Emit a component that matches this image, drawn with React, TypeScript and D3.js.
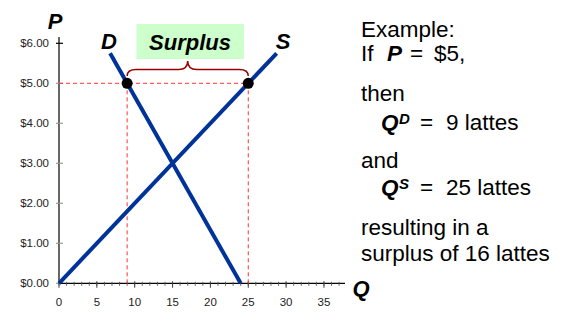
import React from "react";
import * as d3 from "d3";

const priceTicks = [0, 1, 2, 3, 4, 5, 6];
const priceLabels = ["$0.00", "$1.00", "$2.00", "$3.00", "$4.00", "$5.00", "$6.00"];
const qtyTicks = [0, 5, 10, 15, 20, 25, 30, 35];
const qtyMinor = d3.range(0, 38, 1);
const demandPoints = [
  { q: 6.75, p: 5.75 },
  { q: 24, p: 0 },
];
const supplyPoints = [
  { q: 0, p: 0 },
  { q: 28.75, p: 5.75 },
];
const price = 5;
const qDemanded = 9;
const qSupplied = 25;

const FONT = "'Liberation Sans', Arial, Helvetica, sans-serif";

export default function App() {
  const x = d3.scaleLinear().domain([0, 38]).range([59, 59 + 38 * 7.57]);
  const y = d3.scaleLinear().domain([0, 6]).range([283.3, 43.3]);
  const line = d3
    .line<{ q: number; p: number }>()
    .x((d) => x(d.q))
    .y((d) => y(d.p));

  const x0 = x(0);
  const y0 = y(0);
  const xd = x(qDemanded);
  const xs = x(qSupplied);
  const yp = y(price);

  // brace
  const bTop = 69.5;
  const bEnd = 76;
  const bMid = (xd + xs) / 2;
  const bPeak = 61;
  const r = 6;
  const brace = `M${xd},${bEnd} Q${xd},${bTop} ${xd + r * 1.5},${bTop} L${bMid - r * 1.5},${bTop} Q${bMid},${bTop} ${bMid},${bPeak} Q${bMid},${bTop} ${bMid + r * 1.5},${bTop} L${xs - r * 1.5},${bTop} Q${xs},${bTop} ${xs},${bEnd}`;

  const textSize = 22.5;
  const bi = { fontWeight: "bold" as const, fontStyle: "italic" as const };
  return (
    <svg
      width={568}
      height={329}
      style={{ position: "absolute", left: 0, top: 0, background: "#fff" }}
      fontFamily={FONT}
    >
      {/* Y axis */}
      <line x1={x0} x2={x0} y1={37} y2={y0} stroke="#000" strokeWidth={1.2} />
      {priceTicks.map((t, i) => (
        <g key={"py" + t}>
          <line x1={x0 - 3} x2={x0 + 4} y1={y(t)} y2={y(t)} stroke={t === 6 ? "#000" : "#999"} strokeWidth={1.2} />
          <text x={x0 - 10} y={y(t) + 4} textAnchor="end" fontSize={11.5} fill="#222">
            {priceLabels[i]}
          </text>
        </g>
      ))}
      {/* X axis */}
      <line x1={x0} x2={345} y1={y0} y2={y0} stroke="#000" strokeWidth={1.2} />
      {qtyMinor.map((t) => (
        <line key={"mq" + t} x1={x(t)} x2={x(t)} y1={y0 - 1.5} y2={y0 + 2.5} stroke="#555" strokeWidth={0.9} />
      ))}
      {qtyTicks.map((t) => (
        <g key={"q" + t}>
          <line x1={x(t)} x2={x(t)} y1={y0 - 2} y2={y0 + 4.5} stroke="#444" strokeWidth={1} />
          <text x={x(t)} y={y0 + 23} textAnchor="middle" fontSize={11.5} fill="#222">
            {t}
          </text>
        </g>
      ))}

      {/* dashed guides */}
      <g stroke="#ff3333" strokeWidth={1} strokeDasharray="4,3" fill="none">
        <line x1={x0} x2={xs} y1={yp} y2={yp} />
        <line x1={xd} x2={xd} y1={yp} y2={y0} />
        <line x1={xs} x2={xs} y1={yp} y2={y0} />
      </g>

      {/* curves */}
      <path d={line(demandPoints) || ""} stroke="#003399" strokeWidth={4} fill="none" />
      <path d={line(supplyPoints) || ""} stroke="#003399" strokeWidth={4} fill="none" />

      {/* dots */}
      <circle cx={xd} cy={yp} r={5.5} fill="#000" />
      <circle cx={xs} cy={yp} r={5.5} fill="#000" />

      {/* brace */}
      <path d={brace} stroke="#990000" strokeWidth={1.5} fill="none" />

      {/* Surplus label */}
      <rect x={136.5} y={24} width={107.5} height={35} fill="#ccffcc" />
      <text x={190} y={50} textAnchor="middle" fontSize={22} {...bi}>
        Surplus
      </text>
      <text x={109} y={48.5} textAnchor="middle" fontSize={22} {...bi}>
        D
      </text>
      <text x={283} y={48.5} textAnchor="middle" fontSize={22} {...bi}>
        S
      </text>
      <text x={55} y={28.5} textAnchor="middle" fontSize={22} {...bi}>
        P
      </text>
      <text x={361} y={296} textAnchor="middle" fontSize={22} {...bi}>
        Q
      </text>

      {/* right-side explanation */}
      <g fontSize={textSize} fill="#000">
        <text x={361} y={37}>Example:</text>
        <text x={361} y={61}>If</text>
        <text x={387} y={61} {...bi}>P</text>
        <text x={410} y={61}>=</text>
        <text x={434} y={61}>$5,</text>
        <text x={361} y={101}>then</text>
        <text x={381} y={130} {...bi}>Q</text>
        <text x={399} y={124} fontSize={15} {...bi}>D</text>
        <text x={420} y={130}>=</text>
        <text x={446} y={130}>9 lattes</text>
        <text x={361} y={168}>and</text>
        <text x={381} y={195} {...bi}>Q</text>
        <text x={399} y={189} fontSize={15} {...bi}>S</text>
        <text x={420} y={195}>=</text>
        <text x={446} y={195}>25 lattes</text>
        <text x={361} y={235}>resulting in a</text>
        <text x={361} y={261}>surplus of 16 lattes</text>
      </g>
    </svg>
  );
}
